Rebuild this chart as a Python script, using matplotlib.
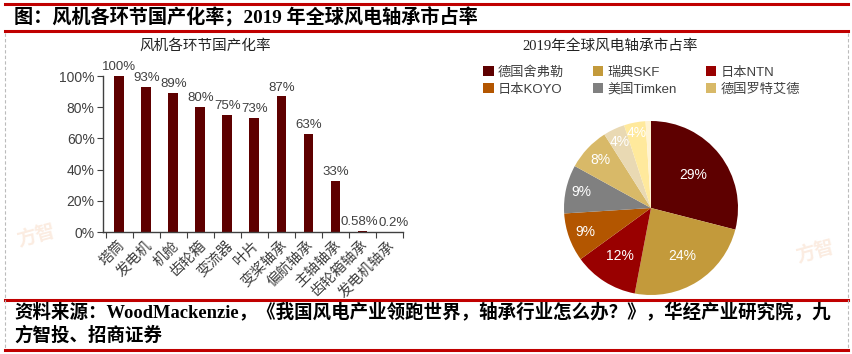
import numpy as np
import matplotlib
matplotlib.use("Agg")
import matplotlib.pyplot as plt
from matplotlib.lines import Line2D
from matplotlib.patches import Patch

plt.rcParams['font.family'] = ['Liberation Sans', 'Noto Sans CJK SC', 'DejaVu Sans']

# ========== data ==========
parts = ["塔筒", "发电机", "机舱", "齿轮箱", "变流器", "叶片",
         "变桨轴承", "偏航轴承", "主轴轴承", "齿轮箱轴承", "发电机轴承"]
local_rate = [100, 93, 89, 80, 75, 73, 87, 63, 33, 0.58, 0.2]
rate_labels = ["100%", "93%", "89%", "80%", "75%", "73%", "87%", "63%", "33%", "0.58%", "0.2%"]

makers = ["德国舍弗勒", "瑞典SKF", "日本NTN", "日本KOYO", "美国Timken", "德国罗特艾德", "其他1", "其他2", "其他3"]
share = [29, 24, 12, 9, 9, 8, 4, 4, 1]
share_labels = ["29%", "24%", "12%", "9%", "9%", "8%", "4%", "4%", ""]
pie_colors = ["#5E0000", "#C39A3B", "#990000", "#B35600", "#808080",
              "#D8B968", "#E9D9B3", "#FFE99C", "#FFF3D2"]
label_r = [0.62, 0.66, 0.66, 0.80, 0.82, 0.80, 0.84, 0.88, 0.9]

RED = "#C00000"
BAR = "#5E0000"
GREY = "#404040"
SERIF_CJK = ['Liberation Serif', 'Noto Sans CJK SC']

fig = plt.figure(figsize=(8.52, 3.54), dpi=100)
W, H = 852, 354

def fx(x):
    return x / W

def fy(y):
    return 1 - y / H

# ========== frame ==========
for y in [4, 31, 300, 350]:
    fig.add_artist(Line2D([fx(5), fx(848)], [fy(y), fy(y)], color=RED, lw=2.2))
for x in [5, 848]:
    fig.add_artist(Line2D([fx(x), fx(x)], [fy(33), fy(349)], color="#BBBBBB",
                          lw=0.8, ls=(0, (3, 2))))

fig.text(fx(14), fy(18), "图：风机各环节国产化率；2019 年全球风电轴承市占率",
         family=SERIF_CJK, fontweight="bold", fontsize=13.8, va="center", ha="left", color="black")
fig.text(fx(14), fy(313),
         "资料来源：WoodMackenzie，《我国风电产业领跑世界，轴承行业怎么办？》，华经产业研究院，九",
         family=SERIF_CJK, fontweight="bold", fontsize=13.3, va="center", ha="left", color="black")
fig.text(fx(14), fy(336), "方智投、招商证券",
         family=SERIF_CJK, fontweight="bold", fontsize=13.3, va="center", ha="left", color="black")

# faint watermarks
fig.text(fx(36), fy(236), "方智", fontsize=14, color="#F4C8A8", alpha=0.35,
         rotation=15, ha="center", va="center", fontweight="bold")
fig.text(fx(815), fy(252), "方智", fontsize=14, color="#F4C8A8", alpha=0.35,
         rotation=15, ha="center", va="center", fontweight="bold")

# sub titles
fig.text(fx(205), fy(46), "风机各环节国产化率", family=SERIF_CJK,
         fontsize=10.5, ha="center", va="center", color="#222222")
fig.text(fx(610), fy(46), "2019年全球风电轴承市占率", family=SERIF_CJK,
         fontsize=10.5, ha="center", va="center", color="#222222")

# ========== bar chart ==========
ax = fig.add_axes([fx(103), fy(232), fx(403) - fx(103), fy(76) - fy(232)])
x = np.arange(len(parts))
ax.bar(x, local_rate, width=0.36, color=BAR)
ax.set_xlim(-0.6, len(parts) - 0.5)
ax.set_ylim(0, 100)
ax.set_yticks([0, 20, 40, 60, 80, 100])
ax.set_yticklabels(["0%", "20%", "40%", "60%", "80%", "100%"], fontsize=10, color=GREY)
ax.set_xticks(np.arange(len(parts) + 1) - 0.5)
ax.set_xticklabels([])
ax.tick_params(axis="x", direction="out", length=4, color=GREY)
ax.tick_params(axis="y", direction="out", length=4, color=GREY, pad=2)
for s in ["top", "right"]:
    ax.spines[s].set_visible(False)
for s in ["left", "bottom"]:
    ax.spines[s].set_color(GREY)
    ax.spines[s].set_linewidth(1)
for i, (v, t) in enumerate(zip(local_rate, rate_labels)):
    dx = {9: -2, 10: 3}.get(i, 0)
    ax.annotate(t, (i, v), xytext=(dx, 2), textcoords="offset points",
                ha="center", va="bottom", fontsize=9.5, color=GREY, clip_on=False)
for i, name in enumerate(parts):
    ax.text(i + 0.3, -4, name, rotation=45, ha="right", va="top",
            fontsize=10.5, color=GREY, family=['Noto Sans CJK SC'])

# ========== pie chart ==========
cx, cy, r = 651, 208, 87
pax = fig.add_axes([fx(cx - r), fy(cy + r), fx(2 * r), fy(cy - r) - fy(cy + r)])
wedges, _ = pax.pie(share, colors=pie_colors, startangle=90, counterclock=False,
                    radius=1, wedgeprops=dict(linewidth=0))
pax.set_xlim(-1, 1)
pax.set_ylim(-1, 1)
pax.set_aspect("equal")
pax.axis("off")
for w, t, rr in zip(wedges, share_labels, label_r):
    ang = np.deg2rad((w.theta1 + w.theta2) / 2)
    pax.text(rr * np.cos(ang), rr * np.sin(ang), t, ha="center", va="center",
             fontsize=10, color="white")

# legend (first six makers)
handles = [Patch(facecolor=c, edgecolor="none") for c in pie_colors[:6]]
order = [0, 3, 1, 4, 2, 5]
leg = fig.legend([handles[i] for i in order], [makers[i] for i in order],
                 ncol=3, loc="upper left", bbox_to_anchor=(fx(483), fy(66)),
                 frameon=False, fontsize=9.5, handlelength=0.8, handleheight=0.8,
                 handletextpad=0.3, columnspacing=2.2, labelspacing=0.35,
                 borderaxespad=0, borderpad=0)
for t in leg.get_texts():
    t.set_color(GREY)

fig.savefig("out.png", dpi=100)
